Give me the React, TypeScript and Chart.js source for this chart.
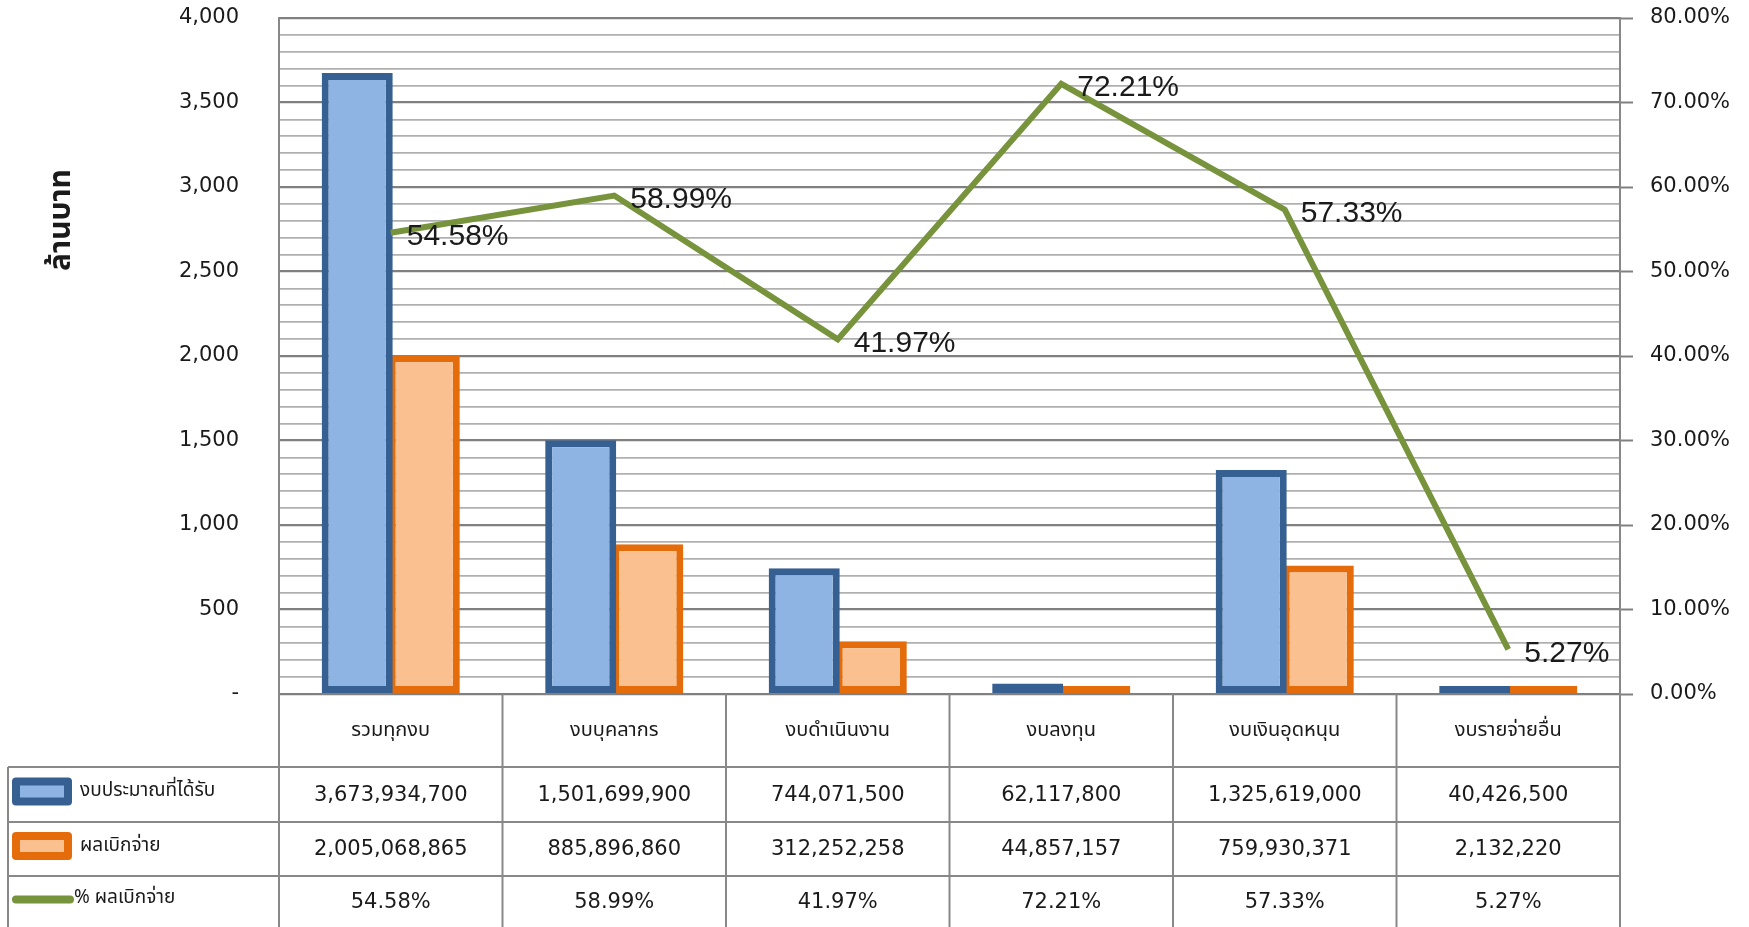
import { useEffect, useRef } from 'react';
import { Chart, registerables } from 'chart.js';

Chart.register(...registerables);

const categories = ['รวมทุกงบ', 'งบบุคลากร', 'งบดำเนินงาน', 'งบลงทุน', 'งบเงินอุดหนุน', 'งบรายจ่ายอื่น'];
const budgetBaht = [3673934700, 1501699900, 744071500, 62117800, 1325619000, 40426500];
const disbursedBaht = [2005068865, 885896860, 312252258, 44857157, 759930371, 2132220];
const disbursedPct = [54.58, 58.99, 41.97, 72.21, 57.33, 5.27];
const seriesNames = ['งบประมาณที่ได้รับ', 'ผลเบิกจ่าย', '% ผลเบิกจ่าย'];
const yTitle = 'ล้านบาท';
const leftMax = 4000;
const leftMajor = 500;
const leftMinor = 100;
const rightMax = 80;
const rightMajor = 10;
const rightMinor = 2;

const budgetM = budgetBaht.map((v) => v / 1e6);
const disbursedM = disbursedBaht.map((v) => v / 1e6);

const BLUE_BORDER = '#376092';
const BLUE_FILL = '#8DB4E2';
const ORANGE_BORDER = '#E46C0A';
const ORANGE_FILL = '#FAC090';
const GREEN = '#77933C';
const MAJOR = '#808080';
const MINOR = '#b0b0b0';
const TEXT = '#1a1a1a';
const THAI_FONT = '"Noto Sans Thai", "Noto Sans", "DejaVu Sans", sans-serif';

const fmtInt = (v: number) => v.toLocaleString('en-US');
const fmtPct = (v: number) => v.toFixed(2) + '%';

const tablePlugin = {
  id: 'tablePlugin',
  afterDraw(chart: any) {
    const ctx = chart.ctx as CanvasRenderingContext2D;
    const ca = chart.chartArea;
    const n = categories.length;
    const cw = (ca.right - ca.left) / n;
    const r1 = ca.bottom + 73;
    const r2 = ca.bottom + 128;
    const r3 = ca.bottom + 182;
    const bottom = chart.height;
    const tableLeft = 8;
    const line = (x1: number, y1: number, x2: number, y2: number) => {
      ctx.beginPath();
      ctx.moveTo(x1, y1);
      ctx.lineTo(x2, y2);
      ctx.stroke();
    };
    ctx.save();
    ctx.strokeStyle = '#888888';
    ctx.lineWidth = 2;
    for (let i = 0; i <= n; i++) {
      const xx = ca.left + i * cw;
      line(xx, ca.bottom, xx, bottom);
    }
    for (const y of [r1, r2, r3]) line(tableLeft, y, ca.right, y);
    line(tableLeft, r1, tableLeft, bottom);

    ctx.save();
    ctx.translate(64, 220);
    ctx.rotate(-Math.PI / 2);
    ctx.fillStyle = TEXT;
    ctx.font = `bold 30px ${THAI_FONT}`;
    ctx.textAlign = 'center';
    ctx.textBaseline = 'middle';
    ctx.fillText(yTitle, 0, 0);
    ctx.restore();

    ctx.fillStyle = TEXT;
    ctx.textAlign = 'center';
    ctx.textBaseline = 'middle';
    const xs = chart.scales.x;
    ctx.font = `20px ${THAI_FONT}`;
    categories.forEach((c, i) => {
      ctx.fillText(c, xs.getPixelForValue(i), (ca.bottom + r1) / 2 + 1);
    });
    ctx.font = '21px "DejaVu Sans", sans-serif';
    budgetBaht.forEach((v, i) => ctx.fillText(fmtInt(v), xs.getPixelForValue(i), (r1 + r2) / 2 + 1));
    disbursedBaht.forEach((v, i) => ctx.fillText(fmtInt(v), xs.getPixelForValue(i), (r2 + r3) / 2 + 1));
    disbursedPct.forEach((v, i) => ctx.fillText(fmtPct(v), xs.getPixelForValue(i), (r3 + bottom) / 2 + 1));

    const swatch = (y: number, border: string, fill: string) => {
      ctx.fillStyle = border;
      ctx.beginPath();
      (ctx as any).roundRect(12, y - 14, 60, 28, 4);
      ctx.fill();
      ctx.fillStyle = fill;
      ctx.fillRect(20, y - 6, 44, 12);
    };
    swatch((r1 + r2) / 2 - 3, BLUE_BORDER, BLUE_FILL);
    swatch((r2 + r3) / 2 - 3, ORANGE_BORDER, ORANGE_FILL);
    ctx.strokeStyle = GREEN;
    ctx.lineWidth = 8;
    ctx.lineCap = 'round';
    line(16, (r3 + bottom) / 2 - 2, 70, (r3 + bottom) / 2 - 2);
    ctx.fillStyle = TEXT;
    ctx.textAlign = 'left';
    ctx.font = `19px ${THAI_FONT}`;
    ctx.fillText(seriesNames[0], 80, (r1 + r2) / 2 - 2);
    ctx.fillText(seriesNames[1], 80, (r2 + r3) / 2 - 2);
    ctx.fillText(seriesNames[2], 74, (r3 + bottom) / 2 - 2);
    ctx.restore();
  },
};

const lineLabelPlugin = {
  id: 'lineLabelPlugin',
  afterDatasetsDraw(chart: any) {
    const ctx = chart.ctx as CanvasRenderingContext2D;
    const meta = chart.getDatasetMeta(2);
    ctx.save();
    ctx.fillStyle = TEXT;
    ctx.font = '30px "Liberation Sans", Arial, sans-serif';
    ctx.textAlign = 'left';
    ctx.textBaseline = 'middle';
    meta.data.forEach((pt: any, i: number) => {
      ctx.fillText(fmtPct(disbursedPct[i]), pt.x + 16, pt.y + 4);
    });
    ctx.restore();
  },
};

export default function App() {
  const ref = useRef<HTMLCanvasElement | null>(null);
  useEffect(() => {
    if (!ref.current) return;
    const chart = new Chart(ref.current, {
      type: 'bar',
      data: {
        labels: categories,
        datasets: [
          {
            type: 'bar',
            label: seriesNames[0],
            data: budgetM,
            backgroundColor: BLUE_FILL,
            borderColor: BLUE_BORDER,
            borderWidth: 7,
            borderSkipped: false,
            minBarLength: 8,
            yAxisID: 'y',
            order: 1,
            categoryPercentage: 0.6,
            barPercentage: 1.06,
          },
          {
            type: 'bar',
            label: seriesNames[1],
            data: disbursedM,
            backgroundColor: ORANGE_FILL,
            borderColor: ORANGE_BORDER,
            borderWidth: 7,
            borderSkipped: false,
            minBarLength: 8,
            yAxisID: 'y',
            order: 1,
            categoryPercentage: 0.6,
            barPercentage: 1.06,
          },
          {
            type: 'line',
            label: seriesNames[2],
            data: disbursedPct,
            borderColor: GREEN,
            backgroundColor: GREEN,
            borderWidth: 6,
            pointRadius: 0,
            tension: 0,
            yAxisID: 'y1',
            order: 0,
          } as any,
        ],
      },
      options: {
        responsive: false,
        animation: false,
        devicePixelRatio: 1,
        layout: { padding: { top: 18, left: 0, right: 0, bottom: 0 } },
        plugins: { legend: { display: false }, tooltip: { enabled: false } },
        scales: {
          x: {
            display: true,
            grid: { display: false },
            border: { display: false },
            ticks: { display: false },
            afterFit: (s: any) => {
              s.height = 233;
            },
          },
          y: {
            position: 'left',
            min: 0,
            max: leftMax,
            afterBuildTicks: (s: any) => {
              const t = [];
              for (let v = 0; v <= leftMax; v += leftMinor) t.push({ value: v });
              s.ticks = t;
            },
            ticks: {
              autoSkip: false,
              padding: 40,
              color: TEXT,
              font: { family: '"DejaVu Sans", sans-serif', size: 21 },
              callback: (v: any) => {
                const n = Number(v);
                if (n % leftMajor !== 0) return '';
                return n === 0 ? '-' : fmtInt(n);
              },
            },
            grid: {
              drawTicks: false,
              color: (c: any) => (c.tick && c.tick.value % leftMajor === 0 ? MAJOR : MINOR),
              lineWidth: (c: any) => (c.tick && c.tick.value % leftMajor === 0 ? 2.2 : 1.8),
            },
            border: { display: true, color: '#888888', width: 2 },
            afterFit: (s: any) => {
              s.width = 279;
              s.paddingTop = 0;
              s.paddingBottom = 0;
            },
          },
          y1: {
            position: 'right',
            min: 0,
            max: rightMax,
            afterBuildTicks: (s: any) => {
              const t = [];
              for (let v = 0; v <= rightMax; v += rightMinor) t.push({ value: v });
              s.ticks = t;
            },
            ticks: {
              autoSkip: false,
              padding: 17,
              color: TEXT,
              font: { family: '"DejaVu Sans", sans-serif', size: 21 },
              callback: (v: any) => {
                const n = Number(v);
                if (n % rightMajor !== 0) return '';
                return n.toFixed(2) + '%';
              },
            },
            grid: {
              drawOnChartArea: false,
              drawTicks: true,
              tickLength: 13,
              tickWidth: 2,
              tickColor: (c: any) => (c.tick && c.tick.value % rightMajor === 0 ? MAJOR : 'rgba(0,0,0,0)'),
            },
            border: { display: true, color: '#888888', width: 2 },
            afterFit: (s: any) => {
              s.width = 129;
              s.paddingTop = 0;
              s.paddingBottom = 0;
            },
          },
        },
      } as any,
      plugins: [tablePlugin, lineLabelPlugin],
    });
    return () => chart.destroy();
  }, []);
  return (
    <canvas
      ref={ref}
      width={1749}
      height={927}
      style={{ position: 'fixed', left: 0, top: 0, width: 1749, height: 927, display: 'block' }}
    />
  );
}
